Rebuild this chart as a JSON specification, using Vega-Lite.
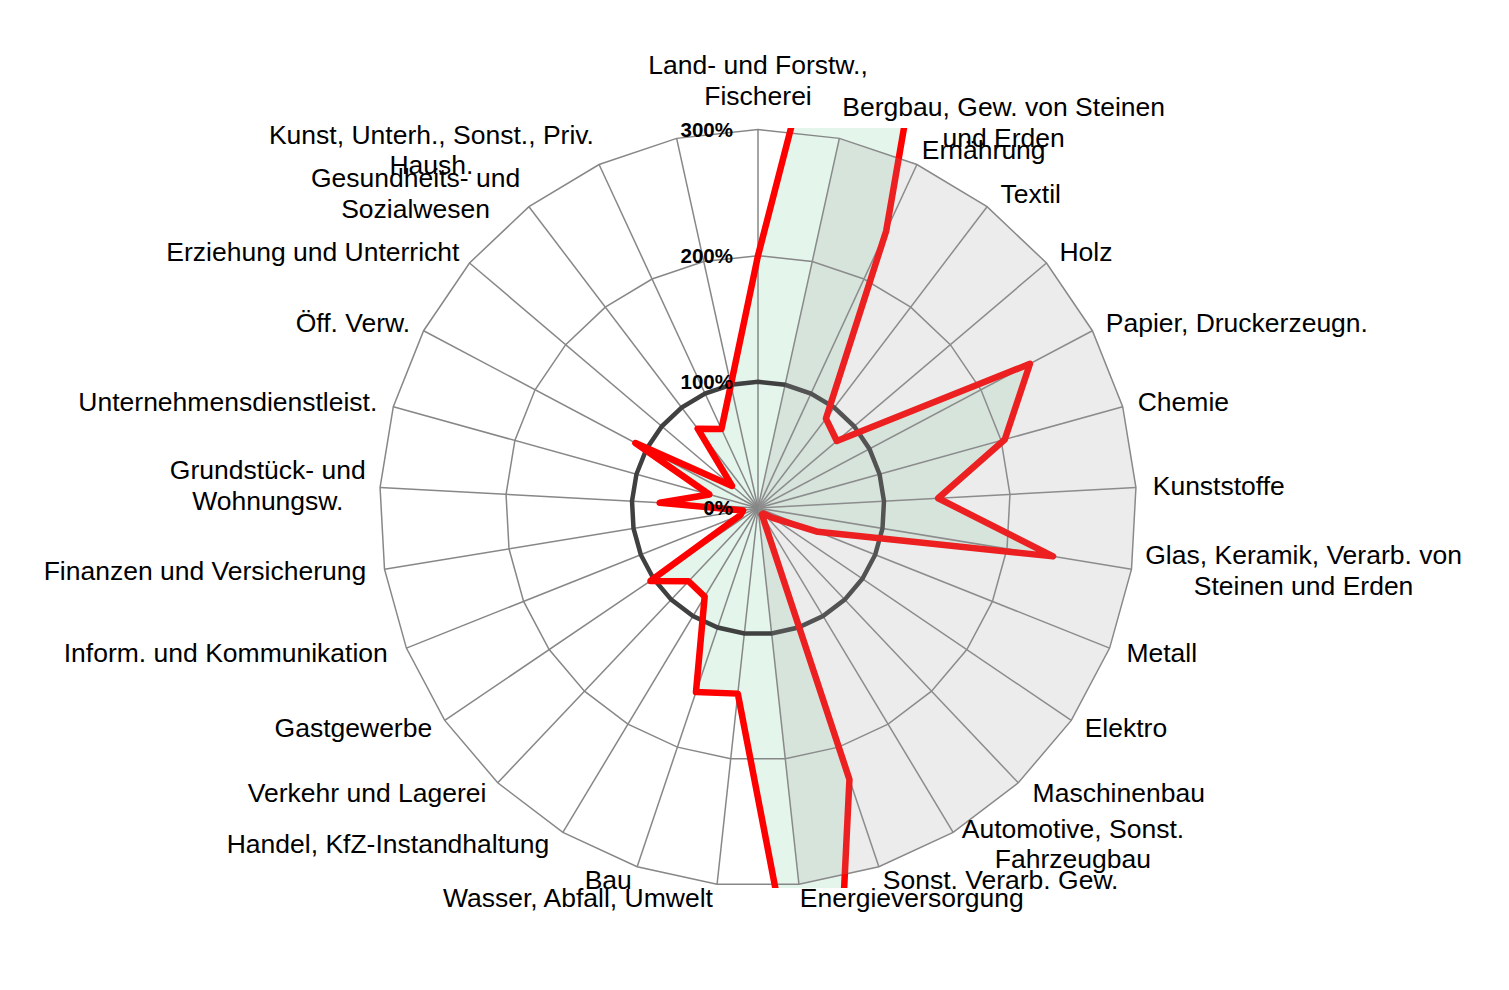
{
  "$schema": "https://vega.github.io/schema/vega-lite/v6.json",
  "width": 760,
  "height": 760,
  "autosize": {"type": "none"},
  "padding": {"left": 378, "top": 128, "right": 371, "bottom": 102},
  "background": "white",
  "config": {"view": {"stroke": null}},
  "datasets": {
    "sectors": [
      {"label": "Land- und Forstw.,\nFischerei", "value": 200, "band": 0, "avg": 100},
      {"label": "Bergbau, Gew. von Steinen\nund Erden", "value": 1377, "band": 300, "avg": 100},
      {"label": "Ernährung", "value": 242, "band": 300, "avg": 100},
      {"label": "Textil", "value": 89, "band": 300, "avg": 100},
      {"label": "Holz", "value": 82, "band": 300, "avg": 100},
      {"label": "Papier, Druckerzeugn.", "value": 244, "band": 300, "avg": 100},
      {"label": "Chemie", "value": 203, "band": 300, "avg": 100},
      {"label": "Kunststoffe", "value": 143, "band": 300, "avg": 100},
      {"label": "Glas, Keramik, Verarb. von\nSteinen und Erden", "value": 237, "band": 300, "avg": 100},
      {"label": "Metall", "value": 51, "band": 300, "avg": 100},
      {"label": "Elektro", "value": 14, "band": 300, "avg": 100},
      {"label": "Maschinenbau", "value": 6, "band": 300, "avg": 100},
      {"label": "Automotive, Sonst.\nFahrzeugbau", "value": 6, "band": 300, "avg": 100},
      {"label": "Sonst. Verarb. Gew.", "value": 227, "band": 300, "avg": 100},
      {"label": "Energieversorgung", "value": 530, "band": 300, "avg": 100},
      {"label": "Wasser, Abfall, Umwelt", "value": 148, "band": 0, "avg": 100},
      {"label": "Bau", "value": 154, "band": 0, "avg": 100},
      {"label": "Handel, KfZ-Instandhaltung", "value": 82, "band": 0, "avg": 100},
      {"label": "Verkehr und Lagerei", "value": 80, "band": 0, "avg": 100},
      {"label": "Gastgewerbe", "value": 103, "band": 0, "avg": 100},
      {"label": "Inform. und Kommunikation", "value": 15, "band": 0, "avg": 100},
      {"label": "Finanzen und Versicherung", "value": 12, "band": 0, "avg": 100},
      {"label": "Grundstück- und\nWohnungsw.", "value": 78, "band": 0, "avg": 100},
      {"label": "Unternehmensdienstleist.", "value": 40, "band": 0, "avg": 100},
      {"label": "Öff. Verw.", "value": 110, "band": 0, "avg": 100},
      {"label": "Erziehung und Unterricht", "value": 27, "band": 0, "avg": 100},
      {"label": "Gesundheits- und\nSozialwesen", "value": 79, "band": 0, "avg": 100},
      {"label": "Kunst, Unterh., Sonst., Priv.\nHaush.", "value": 69, "band": 0, "avg": 100},
      {"label": "", "value": 100, "band": 0, "avg": 100}
    ],
    "ticks": [
      {"lab": "0%", "v": 0},
      {"lab": "100%", "v": 100},
      {"lab": "200%", "v": 200},
      {"lab": "300%", "v": 300}
    ]
  },
  "layer": [
    {
      "data": {"name": "sectors"},
      "transform": [
        {"window": [{"op": "row_number", "as": "rn"}]},
        {"joinaggregate": [{"op": "count", "as": "n"}]},
        {"calculate": "2*PI*(datum.rn-1)/datum.n", "as": "theta"},
        {"calculate": "datum.value*sin(datum.theta)", "as": "px"},
        {"calculate": "datum.value*cos(datum.theta)", "as": "py"}
      ],
      "mark": {"type": "line", "interpolate": "linear-closed", "fill": "#e4f5ec", "strokeOpacity": 0, "clip": true},
      "encoding": {
        "x": {"field": "px", "type": "quantitative", "scale": {"domain": [-301.2, 301.2], "nice": false, "zero": false}, "axis": null},
        "y": {"field": "py", "type": "quantitative", "scale": {"domain": [-301.2, 301.2], "nice": false, "zero": false}, "axis": null},
        "order": {"field": "rn", "type": "quantitative"}
      }
    },
    {
      "data": {"name": "sectors"},
      "transform": [
        {"window": [{"op": "row_number", "as": "rn"}]},
        {"joinaggregate": [{"op": "count", "as": "n"}]},
        {"calculate": "2*PI*(datum.rn-1)/datum.n", "as": "theta"},
        {"calculate": "[100,200,300]", "as": "lv"},
        {"flatten": ["lv"]},
        {"calculate": "datum.lv*sin(datum.theta)", "as": "px"},
        {"calculate": "datum.lv*cos(datum.theta)", "as": "py"}
      ],
      "mark": {"type": "line", "interpolate": "linear-closed", "stroke": "#878787", "strokeWidth": 1.5},
      "encoding": {
        "x": {"field": "px", "type": "quantitative", "axis": null},
        "y": {"field": "py", "type": "quantitative", "axis": null},
        "detail": {"field": "lv", "type": "nominal"},
        "order": {"field": "rn", "type": "quantitative"}
      }
    },
    {
      "data": {"name": "sectors"},
      "transform": [
        {"window": [{"op": "row_number", "as": "rn"}]},
        {"joinaggregate": [{"op": "count", "as": "n"}]},
        {"calculate": "2*PI*(datum.rn-1)/datum.n", "as": "theta"},
        {"calculate": "0", "as": "z"},
        {"calculate": "300*sin(datum.theta)", "as": "px"},
        {"calculate": "300*cos(datum.theta)", "as": "py"}
      ],
      "mark": {"type": "rule", "stroke": "#878787", "strokeWidth": 1.5},
      "encoding": {
        "x": {"field": "z", "type": "quantitative", "axis": null},
        "y": {"field": "z", "type": "quantitative", "axis": null},
        "x2": {"field": "px"},
        "y2": {"field": "py"}
      }
    },
    {
      "data": {"name": "sectors"},
      "transform": [
        {"window": [{"op": "row_number", "as": "rn"}]},
        {"joinaggregate": [{"op": "count", "as": "n"}]},
        {"calculate": "2*PI*(datum.rn-1)/datum.n", "as": "theta"},
        {"calculate": "datum.avg*sin(datum.theta)", "as": "px"},
        {"calculate": "datum.avg*cos(datum.theta)", "as": "py"}
      ],
      "mark": {"type": "line", "interpolate": "linear-closed", "stroke": "#404040", "strokeWidth": 4.5},
      "encoding": {
        "x": {"field": "px", "type": "quantitative", "axis": null},
        "y": {"field": "py", "type": "quantitative", "axis": null},
        "order": {"field": "rn", "type": "quantitative"}
      }
    },
    {
      "data": {"name": "sectors"},
      "transform": [
        {"window": [{"op": "row_number", "as": "rn"}]},
        {"joinaggregate": [{"op": "count", "as": "n"}]},
        {"calculate": "2*PI*(datum.rn-1)/datum.n", "as": "theta"},
        {"calculate": "datum.value*sin(datum.theta)", "as": "px"},
        {"calculate": "datum.value*cos(datum.theta)", "as": "py"}
      ],
      "mark": {"type": "line", "interpolate": "linear-closed", "stroke": "#ff0000", "strokeWidth": 6.5, "strokeJoin": "round", "clip": true},
      "encoding": {
        "x": {"field": "px", "type": "quantitative", "axis": null},
        "y": {"field": "py", "type": "quantitative", "axis": null},
        "order": {"field": "rn", "type": "quantitative"}
      }
    },
    {
      "data": {"name": "sectors"},
      "transform": [
        {"window": [{"op": "row_number", "as": "rn"}]},
        {"joinaggregate": [{"op": "count", "as": "n"}]},
        {"calculate": "2*PI*(datum.rn-1)/datum.n", "as": "theta"},
        {"calculate": "datum.band*sin(datum.theta)", "as": "px"},
        {"calculate": "datum.band*cos(datum.theta)", "as": "py"}
      ],
      "mark": {"type": "line", "interpolate": "linear-closed", "fill": "#a0a0a0", "fillOpacity": 0.2, "strokeOpacity": 0},
      "encoding": {
        "x": {"field": "px", "type": "quantitative", "axis": null},
        "y": {"field": "py", "type": "quantitative", "axis": null},
        "order": {"field": "rn", "type": "quantitative"}
      }
    },
    {
      "data": {"name": "sectors"},
      "transform": [
        {"window": [{"op": "row_number", "as": "rn"}]},
        {"joinaggregate": [{"op": "count", "as": "n"}]},
        {"calculate": "2*PI*(datum.rn-1)/datum.n", "as": "theta"},
        {"calculate": "sin(datum.theta)", "as": "s"},
        {"calculate": "cos(datum.theta)", "as": "c"},
        {"calculate": "split(datum.label, '\\n')[0]", "as": "l1"},
        {"calculate": "length(split(datum.label, '\\n')) > 1 ? split(datum.label, '\\n')[1] : ''", "as": "l2"},
        {"calculate": "0.556*length(datum.l1) - 0.3*(length(datum.l1) - length(replace(datum.l1, regexp('[ilj.,;:tfr -]','g'), ''))) + 0.13*(length(datum.l1) - length(replace(datum.l1, regexp('[A-ZÄÖÜ]','g'), ''))) + 0.25*(length(datum.l1) - length(replace(datum.l1, regexp('[mwMW]','g'), '')))", "as": "e1"},
        {"calculate": "0.556*length(datum.l2) - 0.3*(length(datum.l2) - length(replace(datum.l2, regexp('[ilj.,;:tfr -]','g'), ''))) + 0.13*(length(datum.l2) - length(replace(datum.l2, regexp('[A-ZÄÖÜ]','g'), ''))) + 0.25*(length(datum.l2) - length(replace(datum.l2, regexp('[mwMW]','g'), '')))", "as": "e2"},
        {"calculate": "max(datum.e1, datum.e2)*26.5/2", "as": "hw"},
        {"calculate": "datum.s > 0.01 ? 1 : (datum.s < -0.01 ? -1 : 0)", "as": "sg"},
        {"calculate": "300*datum.s + (16*datum.s + datum.sg*datum.hw)/1.2616", "as": "lx"},
        {"calculate": "300*datum.c + ((datum.rn == 1 ? 48 : 15*datum.c) + (datum.l2 != '' ? 15.25 : 0))/1.2616", "as": "ly"}
      ],
      "mark": {"type": "text", "font": "Liberation Sans", "fontSize": 26.5, "lineBreak": "\n", "lineHeight": 30.5, "align": "center", "baseline": "middle", "color": "#000000"},
      "encoding": {
        "x": {"field": "lx", "type": "quantitative", "axis": null},
        "y": {"field": "ly", "type": "quantitative", "axis": null},
        "text": {"field": "label"}
      }
    },
    {
      "data": {"name": "ticks"},
      "transform": [{"calculate": "0", "as": "z"}],
      "mark": {"type": "text", "font": "Liberation Sans", "fontSize": 20.5, "fontWeight": "bold", "align": "right", "baseline": "middle", "dx": -25, "dy": 1, "color": "#000000"},
      "encoding": {
        "x": {"field": "z", "type": "quantitative", "axis": null},
        "y": {"field": "v", "type": "quantitative", "axis": null},
        "text": {"field": "lab"}
      }
    }
  ]
}
